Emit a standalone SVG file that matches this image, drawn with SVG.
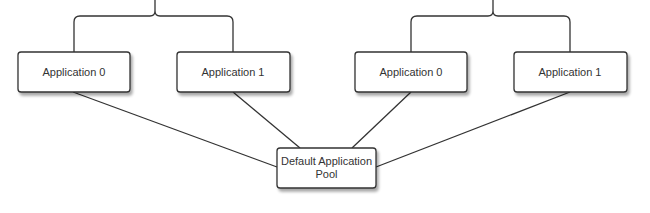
<svg xmlns="http://www.w3.org/2000/svg" width="650" height="213" viewBox="0 0 650 213">
<style>
.box{fill:#fff;stroke:#333;stroke-width:1.3;filter:url(#sh)}
.t{font-family:"Liberation Sans",Arial,sans-serif;font-size:11px;fill:#333;text-anchor:middle}
.c{fill:none;stroke:#333;stroke-width:1.3}
</style>
<defs>
<filter id="sh" x="-20%" y="-20%" width="150%" height="160%">
<feGaussianBlur in="SourceAlpha" stdDeviation="1.5"/>
<feOffset dx="2" dy="3" result="b"/>
<feComponentTransfer><feFuncA type="linear" slope="0.35"/></feComponentTransfer>
<feMerge><feMergeNode/><feMergeNode in="SourceGraphic"/></feMerge>
</filter>
</defs>
<g id="connectors">
<path class="c" d="M74 52 V22 Q74 16 80 16 H150 Q155 16 155 11 V0 M155 11 Q155 16 160 16 H227 Q233 16 233 22 V52"/>
<path class="c" d="M411 52 V22 Q411 16 417 16 H488 Q493 16 493 11 V0 M493 11 Q493 16 498 16 H564 Q570 16 570 22 V52"/>
<line class="c" x1="73" y1="92" x2="277" y2="167"/>
<line class="c" x1="233" y1="92" x2="300" y2="148"/>
<line class="c" x1="411" y1="92" x2="352" y2="148" stroke-width="1"/>
<line class="c" x1="570" y1="92" x2="376" y2="167"/>
</g>
<g id="left-app0"><rect class="box" x="18" y="52" width="112" height="40" rx="3"/><text class="t" x="74" y="76">Application 0</text></g>
<g id="left-app1"><rect class="box" x="177" y="52" width="113" height="40" rx="3"/><text class="t" x="233" y="76">Application 1</text></g>
<g id="right-app0"><rect class="box" x="355" y="52" width="112" height="40" rx="3"/><text class="t" x="411" y="76">Application 0</text></g>
<g id="right-app1"><rect class="box" x="514" y="52" width="113" height="40" rx="3"/><text class="t" x="570" y="76">Application 1</text></g>
<g id="pool"><rect class="box" x="277" y="148" width="99" height="40" rx="3"/><text class="t" x="326.5" y="165">Default Application</text><text class="t" x="326.5" y="178">Pool</text></g>
</svg>
